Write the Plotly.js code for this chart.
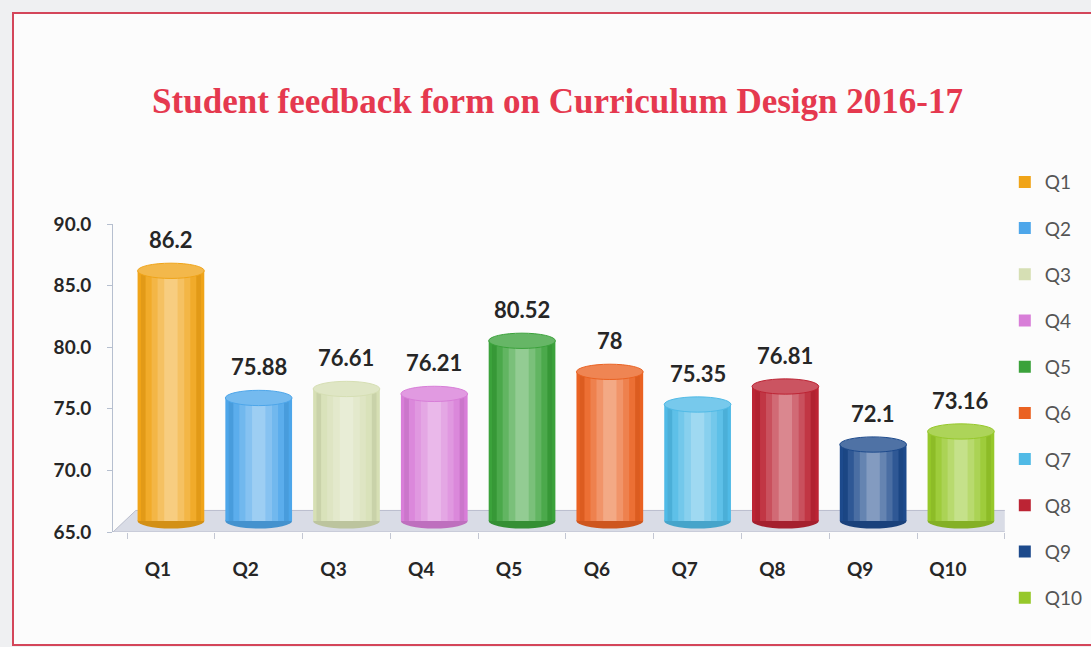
<!DOCTYPE html>
<html>
<head>
<meta charset="utf-8">
<script src="https://cdn.plot.ly/plotly-3.0.1.min.js"></script>
<style>
  html, body { margin: 0; padding: 0; background: #eff0f2; }
  #wrap { position: relative; width: 1091px; height: 647px; overflow: hidden; background: #eff0f2; }
  #frame { position: absolute; left: 12px; top: 12px; width: 1100px; height: 630px;
           border: 2px solid #d4465a; border-right: none; background: #fcfcfc; }
  #chart { position: absolute; left: 0; top: 0; width: 1091px; height: 647px; }
</style>
</head>
<body>
<div id="wrap">
  <div id="frame"></div>
  <div id="chart"></div>
</div>
<script>
// ---- data ----
const categories = ['Q1', 'Q2', 'Q3', 'Q4', 'Q5', 'Q6', 'Q7', 'Q8', 'Q9', 'Q10'];
const values = [86.2, 75.88, 76.61, 76.21, 80.52, 78, 75.35, 76.81, 72.1, 73.16];
const colors = ['#F0A418', '#4DA6EA', '#D6DFB4', '#D87ED8', '#3BA23B', '#EA6222', '#50BAE6', '#BC2434', '#1D4A8C', '#96C82A'];
const yTickVals = [65, 70, 75, 80, 85, 90];
const titleText = 'Student feedback form on Curriculum Design 2016-17';

// ---- helpers ----
function hexToRgb(h) {
  h = h.replace('#', '');
  return [parseInt(h.substr(0, 2), 16), parseInt(h.substr(2, 2), 16), parseInt(h.substr(4, 2), 16)];
}
function mix(hex, target, t) {
  const c = hexToRgb(hex);
  const tg = target === 'white' ? [255, 255, 255] : [0, 0, 0];
  const r = c.map((v, i) => Math.round(v + (tg[i] - v) * t));
  return 'rgb(' + r.join(',') + ')';
}

const yMin = 65, yMax = 90;
const baseLevel = 65.9;      // cylinder bottom centre
const barW = 0.76;
const capR = 0.62;           // vertical radius of ellipses (data units)

// gradient layers: [width fraction, mix target, amount]
const layers = [
  [1.00, 'black', 0.18],
  [0.90, 'black', 0.06],
  [0.76, 'white', 0.08],
  [0.58, 'white', 0.2],
  [0.40, 'white', 0.32],
  [0.20, 'white', 0.45]
];

const traces = [];
categories.forEach((cat, i) => {
  layers.forEach((L, k) => {
    traces.push({
      type: 'bar',
      x: [cat],
      y: [values[i] - baseLevel],
      base: [baseLevel],
      width: [barW * L[0]],
      name: cat,
      legendgroup: cat,
      showlegend: k === 0,
      marker: { color: k === 0 ? colors[i] : mix(colors[i], L[1], L[2]), line: { width: 0 } },
      hoverinfo: 'skip'
    });
  });
});

const shapes = [];
// floor
shapes.push({
  type: 'path', xref: 'x', yref: 'y', layer: 'below',
  path: 'M -0.66,65 L 9.5,65 L 9.76,66.75 L -0.4,66.75 Z',
  fillcolor: '#d9dce6', line: { color: '#b9bdcc', width: 1 }
});
categories.forEach((cat, i) => {
  // bottom ellipse
  shapes.push({
    type: 'circle', xref: 'x', yref: 'y', layer: 'below',
    x0: i - barW / 2, x1: i + barW / 2, y0: baseLevel - capR, y1: baseLevel + capR,
    fillcolor: mix(colors[i], 'black', 0.12), line: { width: 0 }
  });
  // top cap
  shapes.push({
    type: 'circle', xref: 'x', yref: 'y', layer: 'above',
    x0: i - barW / 2, x1: i + barW / 2, y0: values[i] - capR, y1: values[i] + capR,
    fillcolor: mix(colors[i], 'white', 0.22), line: { color: colors[i], width: 1 }
  });
});

const annotations = categories.map((cat, i) => ({
  x: cat, y: values[i], xref: 'x', yref: 'y',
  text: String(values[i]), showarrow: false, yshift: 31,
  font: { family: 'Lato', size: 22, color: '#262626', weight: 'bold' }
}));

const layout = {
  width: 1091, height: 647,
  paper_bgcolor: 'rgba(0,0,0,0)', plot_bgcolor: 'rgba(0,0,0,0)',
  margin: { l: 113, r: 85, t: 224, b: 115 },
  barmode: 'overlay',
  title: {
    text: titleText, xref: 'container', yref: 'container',
    x: 0.511, y: 0.845, xanchor: 'center', yanchor: 'middle',
    font: { family: 'Liberation Serif', size: 35, color: '#e5394f', weight: 'bold' }
  },
  xaxis: {
    type: 'category', range: [-0.66, 9.5], showgrid: false, zeroline: false, showline: false,
    ticks: 'outside', tickson: 'boundaries', ticklen: 6, tickcolor: '#c3c7d3',
    ticklabelstandoff: 24, ticklabelshift: -13,
    tickfont: { family: 'Lato', size: 19, color: '#262626', weight: 'bold' }
  },
  yaxis: {
    range: [yMin, yMax], tickvals: yTickVals, tickformat: '.1f',
    showgrid: false, zeroline: false, showline: true, linecolor: '#b6bfcf', linewidth: 1,
    ticks: 'outside', ticklen: 5, tickcolor: '#b6bfcf', ticklabelstandoff: 12,
    tickfont: { family: 'Lato', size: 19, color: '#262626', weight: 'bold' }
  },
  legend: {
    xref: 'container', yref: 'container', x: 0.921, y: 0.748, xanchor: 'left', yanchor: 'top',
    traceorder: 'grouped', tracegroupgap: 18.5, itemwidth: 30, maxheight: 1000,
    font: { family: 'Lato', size: 19, color: '#555555' },
    bgcolor: 'rgba(0,0,0,0)'
  },
  shapes: shapes,
  annotations: annotations,
  showlegend: true
};

Plotly.newPlot('chart', traces, layout, { displayModeBar: false, staticPlot: true });
</script>
</body>
</html>
